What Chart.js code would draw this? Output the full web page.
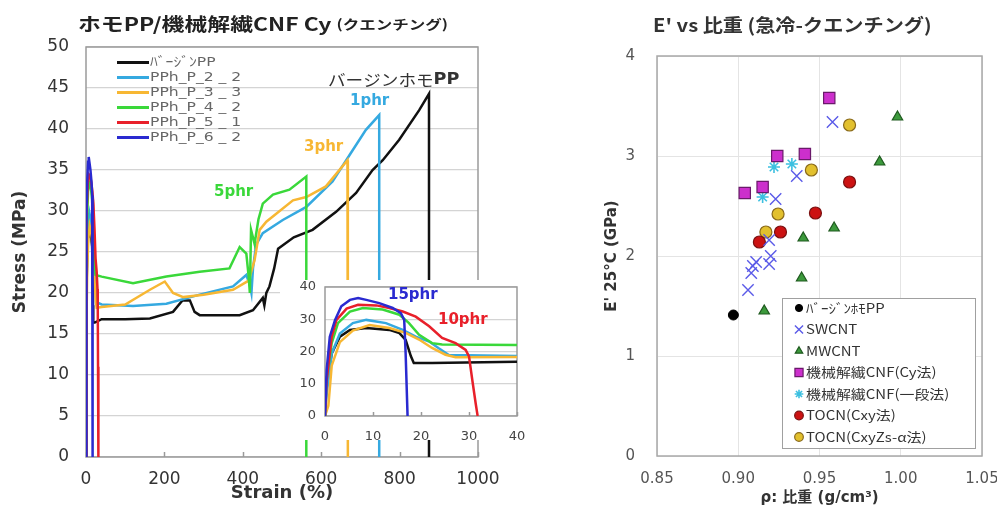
<!DOCTYPE html>
<html>
<head>
<meta charset="utf-8">
<script src="https://cdn.jsdelivr.net/npm/chart.js@4.4.0/dist/chart.umd.min.js"></script>
<style>
  html, body { margin: 0; padding: 0; background: #fff; }
  #wrap { position: relative; width: 997px; height: 511px; overflow: hidden; }
  canvas { position: absolute; }
  #main { left: 0; top: 0; }
  #inset { left: 280px; top: 280px; }
  #scatter { left: 560px; top: 0; }
</style>
</head>
<body>
<div id="wrap">
  <canvas id="main" width="520" height="511"></canvas>
  <canvas id="inset" width="245" height="160"></canvas>
  <canvas id="scatter" width="437" height="511"></canvas>
</div>
<script>
// ---- stress-strain data (strain %, stress MPa) ----
const strainVirgin = [0, 0.3, 1.4, 3.1, 5.2, 8.6, 13.4, 15.5, 16.8, 17.9, 18.5, 22.3, 40, 100, 163, 222, 246, 265, 277, 290, 392, 426, 451, 455, 460, 468, 480, 490, 530, 578, 638, 689, 731, 757, 799, 850, 875, 875];
const stressVirgin = [0, 8.3, 19.4, 24.6, 26.7, 27.3, 26.7, 25.7, 23.6, 18.5, 16.4, 16.4, 16.8, 16.8, 16.9, 17.7, 19.1, 19.1, 17.7, 17.3, 17.3, 17.9, 19.4, 18.5, 20, 20.8, 23, 25.4, 26.8, 27.7, 29.9, 32.2, 35, 36.2, 38.7, 42.3, 44.3, 0];

const strainP22 = [0, 0.3, 1.4, 3.1, 5.8, 8.6, 12.7, 16.2, 18.9, 21.7, 23.7, 25.8, 40, 120, 205, 290, 375, 409, 418, 422, 426, 434, 451, 502, 562, 629, 672, 714, 748, 748];
const stressP22 = [0, 6.4, 19.4, 25.6, 28.8, 29.8, 28.8, 26.7, 24.6, 23.1, 21, 18.9, 18.6, 18.4, 18.7, 19.8, 20.8, 22.2, 21, 20, 23, 25.9, 27.3, 28.9, 30.5, 33.6, 36.8, 39.9, 41.7, 0];

const strainP33 = [0, 0.7, 1.4, 3.1, 5.8, 9.3, 13.4, 16.8, 19.6, 22.3, 25.1, 27.2, 40, 100, 163, 201, 222, 248, 300, 375, 415, 430, 443, 460, 528, 562, 612, 667, 668];
const stressP33 = [0, 3.2, 15.6, 22.9, 26.5, 28.2, 27.3, 25.8, 23.7, 21.1, 19, 18.2, 18.3, 18.6, 20.4, 21.4, 20, 19.5, 19.8, 20.4, 21.5, 24, 27.7, 28.7, 31.3, 31.7, 33, 36.2, 0];

const strainP42 = [0, 0.3, 1.4, 2.7, 5.2, 7.9, 12, 15.5, 17.5, 19.6, 22.3, 24.4, 40, 120, 205, 290, 366, 392, 409, 415, 418, 421, 430, 440, 451, 477, 519, 562, 562];
const stressP42 = [0, 11, 22.6, 28.8, 32.4, 33.5, 33, 31.4, 28.8, 25.2, 22.6, 22.2, 22, 21.2, 22, 22.6, 23, 25.6, 24.8, 22, 20, 27.7, 26, 29, 30.9, 32, 32.6, 34.2, 0];

const strainP51 = [0, 0.34, 1.4, 2.4, 4.5, 6.9, 10.7, 13.4, 16.2, 18.9, 21.7, 24.4, 27.2, 29.3, 30, 30.7, 31.4, 31.8];
const stressP51 = [0, 11, 24.6, 29.8, 33.3, 34.5, 34.3, 33.5, 32.4, 30.8, 27.8, 24.2, 22.6, 20.5, 18.5, 11, 3.8, 0];

const strainP62 = [0, 0.34, 1.0, 2.1, 3.4, 5.2, 6.9, 8.6, 11.3, 14.1, 15.8, 16.5, 16.8, 17.2];
const stressP62 = [0, 14.2, 24.6, 29.8, 34, 36, 36.6, 36, 35, 33.5, 31.9, 29.8, 19.4, 0];

const curveLabels = ['ﾊﾞｰｼﾞﾝPP', 'PPh_P_2 _ 2', 'PPh_P_3 _ 3', 'PPh_P_4 _ 2', 'PPh_P_5 _ 1', 'PPh_P_6 _ 2'];
const curveColors = ['#111111', '#35a9e0', '#f7b733', '#3ad83a', '#e8202a', '#2a2ad0'];
const stressTicks = [0, 5, 10, 15, 20, 25, 30, 35, 40, 45, 50];

// ---- E' vs density data ----
const virginDensity = [0.897];
const virginModulus = [1.41];
const swcntDensity = [0.958, 0.936, 0.923, 0.919, 0.920, 0.919, 0.911, 0.909, 0.908, 0.906];
const swcntModulus = [3.34, 2.80, 2.57, 2.16, 2.00, 1.92, 1.94, 1.90, 1.83, 1.66];
const mwcntDensity = [0.998, 0.987, 0.959, 0.940, 0.939, 0.916];
const mwcntModulus = [3.39, 2.94, 2.28, 2.18, 1.78, 1.45];
const cnfCyDensity = [0.956, 0.924, 0.941, 0.904, 0.915];
const cnfCyModulus = [3.58, 3.00, 3.02, 2.63, 2.69];
const cnfOneDensity = [0.922, 0.933, 0.915];
const cnfOneModulus = [2.89, 2.92, 2.59];
const tocnCxyDensity = [0.9685, 0.9475, 0.926, 0.913];
const tocnCxyModulus = [2.74, 2.43, 2.24, 2.14];
const tocnZsDensity = [0.9685, 0.945, 0.9245, 0.917];
const tocnZsModulus = [3.31, 2.86, 2.42, 2.24];

const FONT = '"DejaVu Sans", "Noto Sans CJK JP", sans-serif';
const JP = '"Noto Sans CJK JP", "DejaVu Sans", sans-serif';

const zip = (xs, ys) => xs.map((x, i) => ({ x, y: ys[i] }));
const curves = [
  [strainVirgin, stressVirgin], [strainP22, stressP22], [strainP33, stressP33],
  [strainP42, stressP42], [strainP51, stressP51], [strainP62, stressP62]
];
const lineSets = () => curves.map(([xs, ys], i) => ({
  label: curveLabels[i],
  data: zip(xs, ys),
  borderColor: curveColors[i],
  borderWidth: 2.5,
  pointRadius: 0,
  tension: 0,
  order: curves.length - i
}));

// texts drawn on the canvas (titles, labels), with optional horizontal stretch
const textPlugin = {
  id: 'texts',
  afterDraw(chart, args, opts) {
    const ctx = chart.ctx;
    (opts.items || []).forEach((t) => {
      ctx.save();
      ctx.textBaseline = 'middle';
      ctx.textAlign = 'left';
      ctx.translate(t.x, t.y);
      ctx.scale(t.sx || 1, 1);
      let x = 0;
      (t.parts || [{ text: t.text, font: t.font, color: t.color }]).forEach((p) => {
        ctx.font = p.font;
        ctx.fillStyle = p.color || t.color || '#222';
        ctx.fillText(p.text, x, 0);
        x += ctx.measureText(p.text).width;
      });
      ctx.restore();
    });
  }
};

// plot frame + inward ticks on the x axis
const framePlugin = {
  id: 'frame',
  beforeDraw(chart, args, opts) {
    if (opts.background) {
      const ctx = chart.ctx;
      ctx.save();
      ctx.fillStyle = opts.background;
      ctx.fillRect(0, 0, chart.width, chart.height);
      ctx.restore();
    }
  },
  beforeDatasetsDraw(chart, args, opts) {
    const { ctx, chartArea: a, scales } = chart;
    ctx.save();
    ctx.strokeStyle = opts.color || '#999';
    ctx.lineWidth = opts.width || 1.5;
    ctx.strokeRect(a.left, a.top, a.right - a.left, a.bottom - a.top);
    if (opts.ticks) {
      scales.x.ticks.forEach((t) => {
        const px = Math.round(scales.x.getPixelForValue(t.value)) + 0.5;
        ctx.beginPath();
        ctx.moveTo(px, a.bottom);
        ctx.lineTo(px, a.bottom - opts.ticks);
        ctx.stroke();
      });
    }
    ctx.restore();
  }
};

// line legend for the stress-strain chart
const lineLegendPlugin = {
  id: 'lineLegend',
  afterDraw(chart, args, opts) {
    if (!opts.x) return;
    const ctx = chart.ctx;
    ctx.save();
    ctx.font = opts.font;
    ctx.textBaseline = 'middle';
    chart.data.datasets.forEach((ds, i) => {
      const y = opts.y + i * opts.row;
      ctx.strokeStyle = ds.borderColor;
      ctx.lineWidth = 3;
      ctx.beginPath();
      ctx.moveTo(opts.x, y);
      ctx.lineTo(opts.x + opts.len, y);
      ctx.stroke();
      ctx.fillStyle = opts.color;
      ctx.save();
      ctx.translate(opts.x + opts.len + 1, y);
      ctx.scale(1.2, 1);
      ctx.fillText(ds.label, 0, 0);
      ctx.restore();
    });
    ctx.restore();
  }
};

// marker legend for the scatter chart
const markerLegendPlugin = {
  id: 'markerLegend',
  afterDraw(chart, args, opts) {
    if (!opts.box) return;
    const ctx = chart.ctx;
    const b = opts.box;
    ctx.save();
    ctx.fillStyle = '#fff';
    ctx.fillRect(b.x, b.y, b.w, b.h);
    ctx.strokeStyle = '#a0a0a0';
    ctx.lineWidth = 1;
    ctx.strokeRect(b.x + 0.5, b.y + 0.5, b.w, b.h);
    ctx.font = opts.font;
    ctx.textBaseline = 'middle';
    chart.data.datasets.forEach((ds, i) => {
      const y = b.y + opts.first + i * opts.row;
      const mx = b.x + 17;
      ctx.fillStyle = ds.backgroundColor;
      ctx.strokeStyle = ds.borderColor;
      ctx.lineWidth = ds.borderWidth;
      Chart.helpers.drawPoint(ctx, { pointStyle: ds.pointStyle, radius: ds.pointRadius * 0.72, borderWidth: ds.borderWidth, rotation: 0 }, mx, y);
      ctx.fillStyle = '#333';
      ctx.save();
      ctx.translate(mx + 7, y);
      ctx.scale(1.15, 1);
      ctx.fillText(ds.label, 0, 0);
      ctx.restore();
    });
    ctx.restore();
  }
};

Chart.register(textPlugin, framePlugin, lineLegendPlugin, markerLegendPlugin);

const fixY = (w) => (s) => { s.width = w; s.paddingTop = 0; s.paddingBottom = 0; };
const fixX = (h) => (s) => { s.height = h; s.paddingLeft = 0; s.paddingRight = 0; };

// ---- main stress-strain chart ----
new Chart(document.getElementById('main'), {
  type: 'line',
  data: { datasets: lineSets() },
  options: {
    responsive: false,
    animation: false,
    layout: { padding: { left: 0, top: 47, right: 42, bottom: 0 } },
    plugins: {
      legend: { display: false },
      tooltip: { enabled: false },
      frame: { color: '#9a9a9a', width: 1.5, ticks: 5 },
      lineLegend: { x: 117, y: 62.5, row: 15, len: 32, font: '13px ' + FONT, color: '#666' },
      texts: {
        items: [
          { x: 78, y: 24, sx: 1.27, parts: [
            { text: 'ホモPP/機械解繊CNF Cy ', font: 'bold 18px ' + JP, color: '#222' },
            { text: '(クエンチング)', font: 'bold 13px ' + JP, color: '#222' }
          ] },
          { x: 328, y: 80, sx: 1.1, parts: [
            { text: 'バージンホモ', font: '16px ' + JP, color: '#333' },
            { text: 'PP', font: 'bold 16px ' + FONT, color: '#333' }
          ] },
          { x: 350, y: 101, text: '1phr', font: 'bold 15px ' + FONT, color: '#35a9e0' },
          { x: 304, y: 147, text: '3phr', font: 'bold 15px ' + FONT, color: '#f7b733' },
          { x: 214, y: 192, text: '5phr', font: 'bold 15px ' + FONT, color: '#3ad83a' }
        ]
      }
    },
    scales: {
      x: {
        type: 'linear', min: 0, max: 1000,
        afterFit: fixX(54),
        ticks: { stepSize: 200, padding: 4, color: '#333', font: { family: FONT, size: 17 }, callback: (v) => String(v) },
        grid: { display: false },
        border: { display: false },
        title: { display: true, text: 'Strain (%)', color: '#333', padding: { bottom: 7 }, font: { family: FONT, size: 18, weight: 'bold' } }
      },
      y: {
        type: 'linear', min: 0, max: 50,
        afterFit: fixY(86),
        afterBuildTicks: (s) => { s.ticks = stressTicks.map((v) => ({ value: v })); },
        ticks: { padding: 17, color: '#333', font: { family: FONT, size: 17 } },
        grid: { color: '#d4d4d4', lineWidth: 1.2, drawTicks: false },
        border: { display: false },
        title: { display: true, text: 'Stress (MPa)', color: '#333', padding: { top: 10 }, font: { family: FONT, size: 17, weight: 'bold' } }
      }
    }
  }
});

// ---- inset: first 40 % of strain ----
new Chart(document.getElementById('inset'), {
  type: 'line',
  data: { datasets: lineSets() },
  options: {
    responsive: false,
    animation: false,
    layout: { padding: { left: 0, top: 7, right: 8, bottom: 0 } },
    plugins: {
      legend: { display: false },
      tooltip: { enabled: false },
      frame: { color: '#9a9a9a', width: 1.5, ticks: 4, background: '#ffffff' },
      texts: {
        items: [
          { x: 108, y: 15, text: '15phr', font: 'bold 15px ' + FONT, color: '#2a2ad0' },
          { x: 158, y: 40, text: '10phr', font: 'bold 15px ' + FONT, color: '#e8202a' }
        ]
      }
    },
    scales: {
      x: {
        type: 'linear', min: 0, max: 40,
        afterFit: fixX(24),
        ticks: { stepSize: 10, padding: 5, color: '#444', font: { family: FONT, size: 13 } },
        grid: { display: false },
        border: { display: false }
      },
      y: {
        type: 'linear', min: 0, max: 40,
        afterFit: fixY(45),
        ticks: { stepSize: 10, padding: 9, color: '#444', font: { family: FONT, size: 13 } },
        grid: { color: '#d4d4d4', lineWidth: 1.2, drawTicks: false },
        border: { display: false }
      }
    }
  }
});

// ---- E' vs density scatter ----
const scatterSets = [
  { label: 'ﾊﾞｰｼﾞﾝﾎﾓPP', data: zip(virginDensity, virginModulus), pointStyle: 'circle', pointRadius: 5, backgroundColor: '#000000', borderColor: '#000000', borderWidth: 1 },
  { label: 'SWCNT', data: zip(swcntDensity, swcntModulus), pointStyle: 'crossRot', pointRadius: 8, backgroundColor: '#5a5ae8', borderColor: '#5a5ae8', borderWidth: 1.4 },
  { label: 'MWCNT', data: zip(mwcntDensity, mwcntModulus), pointStyle: 'triangle', pointRadius: 6, backgroundColor: '#3c9a3c', borderColor: '#1f5a1f', borderWidth: 1.2 },
  { label: '機械解繊CNF(Cy法)', data: zip(cnfCyDensity, cnfCyModulus), pointStyle: 'rect', pointRadius: 8, backgroundColor: '#cc2fcc', borderColor: '#6a1a6a', borderWidth: 1.2 },
  { label: '機械解繊CNF(一段法)', data: zip(cnfOneDensity, cnfOneModulus), pointStyle: 'star', pointRadius: 6, backgroundColor: '#3cc0e0', borderColor: '#3cc0e0', borderWidth: 1.6 },
  { label: 'TOCN(Cxy法)', data: zip(tocnCxyDensity, tocnCxyModulus), pointStyle: 'circle', pointRadius: 6, backgroundColor: '#cc1212', borderColor: '#7a1010', borderWidth: 1.2 },
  { label: 'TOCN(CxyZs-α法)', data: zip(tocnZsDensity, tocnZsModulus), pointStyle: 'circle', pointRadius: 6, backgroundColor: '#e2c02e', borderColor: '#8a6a1a', borderWidth: 1.2 }
];

new Chart(document.getElementById('scatter'), {
  type: 'scatter',
  data: { datasets: scatterSets },
  options: {
    responsive: false,
    animation: false,
    layout: { padding: { left: 0, top: 56, right: 15, bottom: 0 } },
    plugins: {
      legend: { display: false },
      tooltip: { enabled: false },
      frame: { color: '#a8a8a8', width: 1.5 },
      markerLegend: { box: { x: 222, y: 298, w: 193, h: 150 }, first: 10, row: 21.5, font: '13px ' + JP },
      texts: {
        items: [
          { x: 93, y: 25, sx: 1.12, parts: [
            { text: "E' vs 比重 (急冷-クエンチング)", font: 'bold 18px ' + JP, color: '#333' }
          ] }
        ]
      }
    },
    scales: {
      x: {
        type: 'linear', min: 0.85, max: 1.05,
        afterFit: fixX(55),
        ticks: { stepSize: 0.05, padding: 14, color: '#555', font: { family: FONT, size: 15 }, callback: (v) => v.toFixed(2) },
        grid: { color: '#e4e4e4', lineWidth: 1, drawTicks: false },
        border: { display: false },
        title: { display: true, text: 'ρ: 比重 (g/cm³)', color: '#333', padding: { bottom: 4 }, font: { family: FONT, size: 15, weight: 'bold' } }
      },
      y: {
        type: 'linear', min: 0, max: 4,
        afterFit: fixY(97),
        ticks: { stepSize: 1, padding: 22, color: '#555', font: { family: FONT, size: 15 } },
        grid: { color: '#e4e4e4', lineWidth: 1, drawTicks: false },
        border: { display: false },
        title: { display: true, text: "E' 25°C (GPa)", color: '#333', padding: { top: 43 }, font: { family: FONT, size: 15, weight: 'bold' } }
      }
    }
  }
});
</script>
</body>
</html>
